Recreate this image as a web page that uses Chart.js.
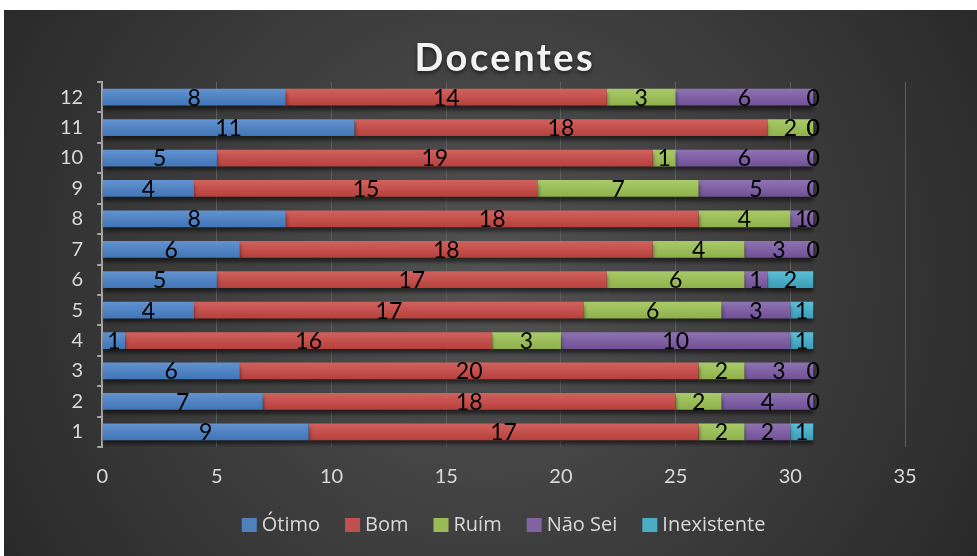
<!DOCTYPE html>
<html>
<head>
<meta charset="utf-8">
<script src="https://cdn.jsdelivr.net/npm/chart.js@4"></script>
<style>
  html, body { margin: 0; padding: 0; background: #fff; }
  #wrap { width: 977px; height: 556px; position: relative; }
</style>
</head>
<body>
<div id="wrap"><canvas id="chart"></canvas></div>
<script>
// === DATA ===
const title = "Docentes";
const categories = ["1", "2", "3", "4", "5", "6", "7", "8", "9", "10", "11", "12"];
const otimo       = [9, 7, 6, 1, 4, 5, 6, 8, 4, 5, 11, 8];
const bom         = [17, 18, 20, 16, 17, 17, 18, 18, 15, 19, 18, 14];
const ruim        = [2, 2, 2, 3, 6, 6, 4, 4, 7, 1, 2, 3];
const naoSei      = [2, 4, 3, 10, 3, 1, 3, 1, 5, 6, 0, 6];
const inexistente = [1, 0, 0, 1, 1, 2, 0, 0, 0, 0, 0, 0];
const xTicks = [0, 5, 10, 15, 20, 25, 30, 35];

const font = "Lato, 'Open Sans', sans-serif";
const legendFont = "'Open Sans', sans-serif";
const legendColors = ["#4f81bd", "#c0504d", "#9bbb59", "#8064a2", "#4bacc6"];

// dark radial background with a thin white margin
const background = {
  id: "background",
  beforeDraw(chart) {
    const ctx = chart.ctx;
    const w = chart.width, h = chart.height;
    ctx.save();
    ctx.fillStyle = "#fff";
    ctx.fillRect(0, 0, w, h);
    const g = ctx.createRadialGradient(w / 2, h / 2, 10, w / 2, h / 2, w * 0.62);
    g.addColorStop(0, "#525252");
    g.addColorStop(1, "#262626");
    ctx.fillStyle = g;
    ctx.fillRect(4, 10, w - 4, h - 10);
    ctx.restore();
  }
};

// spaced-out title with a soft shadow (chart.js title has no letter spacing)
const spacedTitle = {
  id: "spacedTitle",
  afterDraw(chart) {
    const ctx = chart.ctx;
    const area = chart.chartArea;
    ctx.save();
    ctx.font = "bold 38px " + font;
    ctx.letterSpacing = "2.5px";
    ctx.textBaseline = "middle";
    ctx.textAlign = "left";
    const w = ctx.measureText(title).width - 2.5;
    const cx = (area.left + area.right) / 2;
    ctx.shadowColor = "rgba(0,0,0,0.6)";
    ctx.shadowBlur = 4;
    ctx.shadowOffsetY = 2;
    ctx.fillStyle = "#f2f2f2";
    ctx.fillText(title, cx - w / 2, 59);
    ctx.restore();
  }
};

// legend with tight box/text spacing like the office original
const bottomLegend = {
  id: "bottomLegend",
  afterDraw(chart) {
    const ctx = chart.ctx;
    const area = chart.chartArea;
    const boxW = 15, boxH = 14, gap = 5, itemGap = 25, y = 525;
    ctx.save();
    ctx.font = "20px " + legendFont;
    ctx.textBaseline = "middle";
    ctx.textAlign = "left";
    const items = chart.data.datasets.map((ds, i) => ({
      text: ds.label, color: legendColors[i], w: ctx.measureText(ds.label).width
    }));
    let total = 0;
    items.forEach((it, i) => { total += boxW + gap + it.w + (i ? itemGap : 0); });
    let x = (area.left + area.right) / 2 - total / 2;
    items.forEach(it => {
      ctx.fillStyle = it.color;
      ctx.fillRect(x, y - boxH / 2, boxW, boxH);
      ctx.fillStyle = "#d9d9d9";
      ctx.fillText(it.text, x + boxW + gap, y);
      x += boxW + gap + it.w + itemGap;
    });
    ctx.restore();
  }
};

// soft shadow under the bars
const barShadow = {
  id: "barShadow",
  beforeDatasetsDraw(chart) {
    const ctx = chart.ctx;
    ctx.save();
    ctx.shadowColor = "rgba(0,0,0,0.55)";
    ctx.shadowBlur = 4;
    ctx.shadowOffsetY = 4;
  },
  afterDatasetsDraw(chart) {
    chart.ctx.restore();
  }
};

// value labels in the middle of each segment
const valueLabels = {
  id: "valueLabels",
  afterDatasetsDraw(chart) {
    const ctx = chart.ctx;
    ctx.save();
    ctx.font = "23px " + font;
    ctx.fillStyle = "#000";
    ctx.textAlign = "center";
    ctx.textBaseline = "middle";
    chart.data.datasets.forEach((ds, i) => {
      const meta = chart.getDatasetMeta(i);
      meta.data.forEach((bar, j) => {
        const cx = (bar.x + bar.base) / 2;
        ctx.fillText(String(ds.data[j]), cx, bar.y + 1);
      });
    });
    ctx.restore();
  }
};

// vertical gradient per bar: lighter on top, darker below
function shaded(top, bottom) {
  return function (context) {
    const chart = context.chart;
    const y = chart.scales.y;
    if (!y || context.dataIndex === undefined) return bottom;
    const py = y.getPixelForValue(context.dataIndex);
    if (!isFinite(py)) return bottom;
    const g = chart.ctx.createLinearGradient(0, py - 9, 0, py + 9);
    g.addColorStop(0, top);
    g.addColorStop(1, bottom);
    return g;
  };
}

function series(label, data, top, bottom) {
  return {
    label: label,
    data: data,
    backgroundColor: shaded(top, bottom),
    borderWidth: 0,
    barPercentage: 0.55,
    categoryPercentage: 1
  };
}

new Chart(document.getElementById("chart"), {
  type: "bar",
  data: {
    labels: categories,
    datasets: [
      series("Ótimo", otimo, "#6493d0", "#3f74b6"),
      series("Bom", bom, "#d2635f", "#b53f3b"),
      series("Ruím", ruim, "#aacb6a", "#8db04a"),
      series("Não Sei", naoSei, "#8f74b2", "#704f95"),
      series("Inexistente", inexistente, "#5cbfd6", "#3a9bb7")
    ]
  },
  options: {
    indexAxis: "y",
    responsive: true,
    maintainAspectRatio: false,
    animation: false,
    layout: { padding: { top: 82, left: 46, right: 72, bottom: 49 } },
    plugins: {
      title: { display: false },
      legend: { display: false },
      tooltip: { enabled: false }
    },
    scales: {
      x: {
        stacked: true,
        min: 0,
        max: 35,
        afterBuildTicks(scale) {
          scale.ticks = xTicks.map(v => ({ value: v }));
        },
        grid: { color: "#5e5e5e", lineWidth: 1, drawTicks: false },
        border: { display: false },
        ticks: {
          color: "#d9d9d9",
          font: { family: font, size: 20 },
          padding: 18
        }
      },
      y: {
        stacked: true,
        reverse: true,
        grid: {
          drawOnChartArea: false,
          drawTicks: true,
          tickLength: 5,
          color: "#a6a6a6",
          lineWidth: 2,
          offset: true
        },
        border: { display: true, color: "#a6a6a6", width: 2 },
        ticks: {
          color: "#d9d9d9",
          font: { family: font, size: 20 },
          padding: 14
        }
      }
    }
  },
  plugins: [background, barShadow, valueLabels, spacedTitle, bottomLegend]
});
</script>
</body>
</html>
